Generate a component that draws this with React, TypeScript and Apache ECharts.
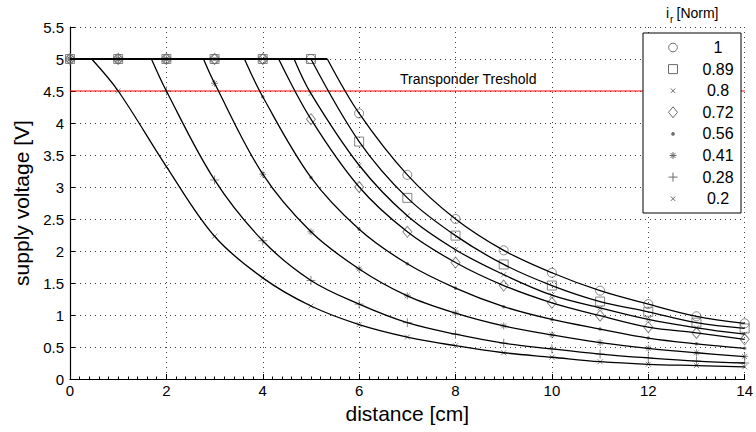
import React, { useEffect, useRef } from 'react';
import * as echarts from 'echarts';

// distance [cm]
const distances = [0, 1, 2, 3, 4, 5, 6, 7, 8, 9, 10, 11, 12, 13, 14];
// normalised reader current i_r
const currentLabels = ['1', '0.89', '0.8', '0.72', '0.56', '0.41', '0.28', '0.2'];
// distance where each curve leaves the 5 V limit
const kneeDistances = [5.34, 5.0, 4.65, 4.33, 3.62, 2.77, 1.69, 0.45];
// supply voltage [V] at each distance
const vI100 = [5, 5, 5, 5, 5, 5, 4.15, 3.19, 2.5, 2.01, 1.66, 1.38, 1.17, 0.98, 0.87];
const vI089 = [5, 5, 5, 5, 5, 5, 3.71, 2.83, 2.24, 1.79, 1.46, 1.21, 1.05, 0.88, 0.79];
const vI080 = [5, 5, 5, 5, 5, 4.46, 3.34, 2.55, 2.02, 1.63, 1.31, 1.11, 0.93, 0.8, 0.7];
const vI072 = [5, 5, 5, 5, 5, 4.06, 3.0, 2.3, 1.82, 1.46, 1.19, 0.99, 0.81, 0.72, 0.62];
const vI056 = [5, 5, 5, 5, 4.41, 3.15, 2.34, 1.8, 1.42, 1.13, 0.93, 0.78, 0.64, 0.55, 0.48];
const vI041 = [5, 5, 5, 4.62, 3.2, 2.3, 1.72, 1.3, 1.03, 0.83, 0.69, 0.57, 0.48, 0.41, 0.35];
const vI028 = [5, 5, 4.5, 3.11, 2.16, 1.54, 1.17, 0.88, 0.7, 0.56, 0.47, 0.39, 0.33, 0.28, 0.25];
const vI020 = [5, 4.5, 3.32, 2.23, 1.58, 1.14, 0.85, 0.655, 0.52, 0.41, 0.34, 0.27, 0.23, 0.21, 0.19];
const voltageSeries = [vI100, vI089, vI080, vI072, vI056, vI041, vI028, vI020];
const supplyLimit = 5;
const thresholdVoltage = 4.5;
const thresholdLabel = 'Transponder Treshold';
const xTicks = { min: 0, max: 14, interval: 2 };
const yTicks = { min: 0, max: 5.5, interval: 0.5 };

const FONT = 'Liberation Sans, Arial, Helvetica, sans-serif';
const GRAY = '#6a6a6a';

const PATH_X = 'path://M0,0L10,10M10,0L0,10';
const PATH_PLUS = 'path://M5,0L5,10M0,5L10,5';
const PATH_STAR = 'path://M5,0L5,10M0,5L10,5M1.5,1.5L8.5,8.5M8.5,1.5L1.5,8.5';

type Mk = { symbol: string; size: number | number[]; filled?: boolean; kind: string };
const markers: Mk[] = [
  { symbol: 'circle', size: 9, kind: 'circle' },
  { symbol: 'rect', size: 9, kind: 'rect' },
  { symbol: PATH_X, size: 5, kind: 'x' },
  { symbol: 'diamond', size: [9, 11], kind: 'diamond' },
  { symbol: 'circle', size: 3.5, filled: true, kind: 'dot' },
  { symbol: PATH_STAR, size: 7, kind: 'star' },
  { symbol: PATH_PLUS, size: 9, kind: 'plus' },
  { symbol: PATH_X, size: 5, kind: 'x' },
];

function legendIcon(kind: string, cx: number, cy: number): any[] {
  const st = { stroke: GRAY, lineWidth: 1, fill: 'none' };
  const ln = (x1: number, y1: number, x2: number, y2: number) => ({
    type: 'line',
    shape: { x1: cx + x1, y1: cy + y1, x2: cx + x2, y2: cy + y2 },
    style: { stroke: GRAY, lineWidth: 1 },
    z: 101,
  });
  switch (kind) {
    case 'circle':
      return [{ type: 'circle', shape: { cx, cy, r: 4.3 }, style: st, z: 101 }];
    case 'rect':
      return [{ type: 'rect', shape: { x: cx - 4.5, y: cy - 4.5, width: 9, height: 9 }, style: st, z: 101 }];
    case 'x':
      return [ln(-2.2, -2.2, 2.2, 2.2), ln(2.2, -2.2, -2.2, 2.2)];
    case 'diamond':
      return [{
        type: 'polygon',
        shape: { points: [[cx, cy - 5.5], [cx + 4.5, cy], [cx, cy + 5.5], [cx - 4.5, cy]] },
        style: st, z: 101,
      }];
    case 'dot':
      return [{ type: 'circle', shape: { cx, cy, r: 1.8 }, style: { fill: GRAY }, z: 101 }];
    case 'star':
      return [ln(0, -3.5, 0, 3.5), ln(-3.5, 0, 3.5, 0), ln(-2.5, -2.5, 2.5, 2.5), ln(2.5, -2.5, -2.5, 2.5)];
    case 'plus':
      return [ln(0, -4.5, 0, 4.5), ln(-4.5, 0, 4.5, 0)];
  }
  return [];
}

export default function App() {
  const ref = useRef<HTMLDivElement>(null);
  useEffect(() => {
    document.body.style.margin = '0';
    if (!ref.current) return;
    const chart = echarts.init(ref.current, undefined, { renderer: 'svg' });

    const series: any[] = [];
    // measured markers
    voltageSeries.forEach((vals, i) => {
      const mk = markers[i];
      series.push({
        type: 'scatter',
        name: currentLabels[i],
        data: distances.map((d, j) => [d, vals[j]]),
        symbol: mk.symbol,
        symbolSize: mk.size,
        itemStyle: mk.filled
          ? { color: GRAY }
          : { color: 'none', borderColor: GRAY, borderWidth: 1 },
        z: 2,
        silent: true,
      });
    });
    // flat 5 V limit
    const maxKnee = Math.max(...kneeDistances);
    series.push({
      type: 'line',
      data: [[0, supplyLimit], [maxKnee, supplyLimit]],
      symbol: 'none',
      lineStyle: { color: '#000', width: 2 },
      z: 4,
    });
    // falling curves
    voltageSeries.forEach((vals, i) => {
      const knee = kneeDistances[i];
      const pts: number[][] = [[knee, supplyLimit]];
      distances.forEach((d, j) => {
        if (d > knee) pts.push([d, vals[j]]);
      });
      series.push({
        type: 'line',
        data: pts,
        symbol: 'none',
        smooth: 0.35,
        lineStyle: { color: '#000', width: 1.3 },
        z: 4,
      });
    });
    // threshold
    series.push({
      type: 'line',
      data: [[xTicks.min, thresholdVoltage], [xTicks.max, thresholdVoltage]],
      symbol: 'none',
      lineStyle: { color: '#ff0000', width: 1.2 },
      z: 3,
    });

    const graphic: any[] = [
      {
        type: 'rect',
        shape: { x: 643, y: 33, width: 98, height: 180 },
        style: { fill: '#fff', stroke: '#000', lineWidth: 1 },
        z: 100,
      },
      { type: 'text', x: 666, y: 6, style: { text: 'i', fontSize: 14, fontFamily: FONT, fill: '#000' }, z: 100 },
      { type: 'text', x: 670, y: 14, style: { text: 'r', fontSize: 10, fontFamily: FONT, fill: '#000' }, z: 100 },
      { type: 'text', x: 676.5, y: 6, style: { text: '[Norm]', fontSize: 14, fontFamily: FONT, fill: '#000' }, z: 100 },
      {
        type: 'text', x: 400, y: 72,
        style: { text: thresholdLabel, fontSize: 14, fontFamily: FONT, fill: '#000' }, z: 100,
      },
    ];
    currentLabels.forEach((lab, i) => {
      const cy = 47.5 + i * 21.6;
      graphic.push(...legendIcon(markers[i].kind, 673, cy));
      graphic.push({
        type: 'text', x: 718, y: cy,
        style: { text: lab, fontSize: 16, fontFamily: FONT, fill: '#000', align: 'center', verticalAlign: 'middle' },
        z: 101,
      });
    });

    const gridLine = { show: true, lineStyle: { color: '#444', type: [1, 4], width: 1 } };
    chart.setOption({
      animation: false,
      backgroundColor: '#fff',
      grid: { left: 70, right: 9, top: 27, bottom: 53 },
      xAxis: {
        type: 'value',
        min: xTicks.min, max: xTicks.max, interval: xTicks.interval,
        name: 'distance [cm]', nameLocation: 'middle', nameGap: 22,
        nameTextStyle: { fontSize: 21, fontFamily: FONT, color: '#000' },
        axisLine: { lineStyle: { color: '#000', width: 1.2 } },
        axisTick: { inside: true, length: 5, lineStyle: { color: '#000' } },
        minorTick: { show: true, splitNumber: 10, length: 2.5, lineStyle: { color: '#000' } },
        axisLabel: { fontSize: 15, fontFamily: FONT, color: '#000', margin: 4 },
        splitLine: gridLine,
      },
      yAxis: {
        type: 'value',
        min: yTicks.min, max: yTicks.max, interval: yTicks.interval,
        name: 'supply voltage [V]', nameLocation: 'middle', nameGap: 38,
        nameTextStyle: { fontSize: 21, fontFamily: FONT, color: '#000' },
        axisLine: { show: true, lineStyle: { color: '#000', width: 1.2 } },
        axisTick: { show: true, inside: true, length: 5, lineStyle: { color: '#000' } },
        axisLabel: { fontSize: 15, fontFamily: FONT, color: '#000', margin: 6 },
        splitLine: gridLine,
      },
      series,
      graphic,
    });
    return () => chart.dispose();
  }, []);
  return <div ref={ref} style={{ width: 756, height: 432 }} />;
}
